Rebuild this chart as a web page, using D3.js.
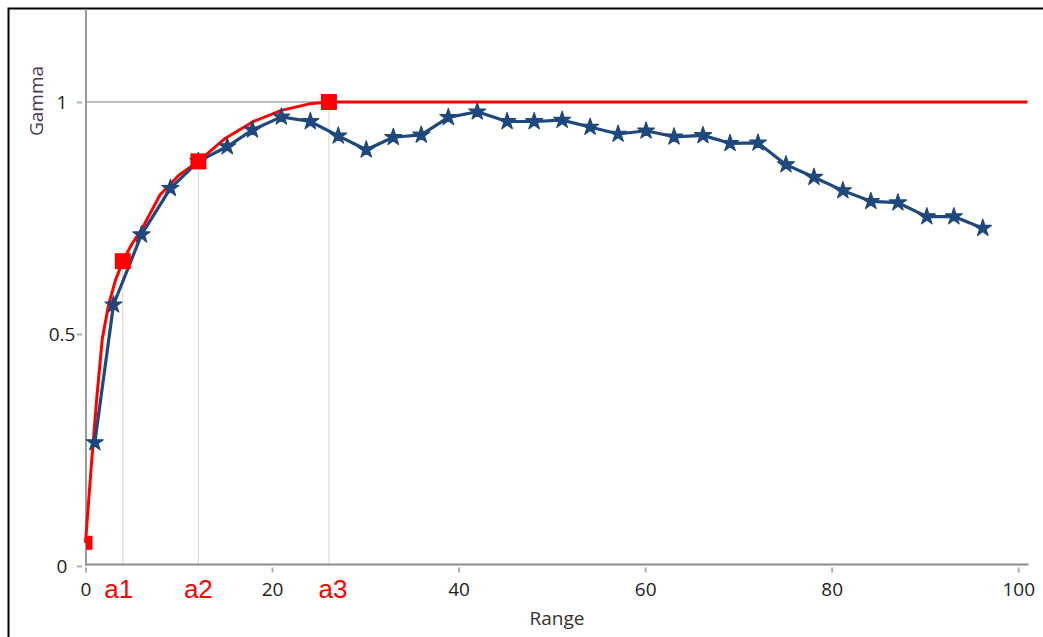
<!DOCTYPE html>
<html>
<head>
<meta charset="utf-8">
<script src="https://cdn.jsdelivr.net/npm/d3@7/dist/d3.min.js"></script>
<style>
  html, body { margin: 0; padding: 0; background: #ffffff; }
  svg { display: block; }
  text { font-family: "Open Sans", "Noto Sans", sans-serif; }
</style>
</head>
<body>
<svg id="chart" width="1043" height="637"></svg>
<script>
// Experimental variogram (lag distance vs gamma)
const lag = [1.0, 3.0, 6.0, 9.1, 12.1, 15.2, 17.9, 21.0, 24.1, 27.1, 30.1, 33.0, 36.0, 38.9, 42.0,
             45.2, 48.1, 51.1, 54.1, 57.1, 60.1, 63.1, 66.2, 69.1, 72.1, 75.1, 78.1, 81.2, 84.2,
             87.1, 90.2, 93.1, 96.2];
const gammaExp = [0.266, 0.563, 0.714, 0.814, 0.872, 0.904, 0.940, 0.968, 0.958, 0.927, 0.897,
                  0.924, 0.929, 0.967, 0.979, 0.958, 0.958, 0.961, 0.946, 0.931, 0.938, 0.925,
                  0.928, 0.911, 0.912, 0.865, 0.838, 0.809, 0.786, 0.783, 0.753, 0.753, 0.728];

// Fitted model curve
const modelLag   = [0, 0.6, 1.2, 1.8, 2.5, 3.2, 4.0, 5.0, 6.0, 8.0, 10.0, 12.1, 15.0, 18.0, 21.0, 24.0, 26.1, 101];
const modelGamma = [0.05, 0.21, 0.36, 0.49, 0.565, 0.615, 0.657, 0.695, 0.725, 0.80, 0.842, 0.872,
                    0.922, 0.958, 0.982, 0.996, 1.0, 1.0];

// Nugget and nested structure ranges
const nugget = 0.05;
const structLabels = ["a1", "a2", "a3"];
const structRange  = [4.0, 12.1, 26.1];
const structGamma  = [0.657, 0.872, 1.0];

// Axis ticks
const rangeTicks = [0, 20, 40, 60, 80, 100];
const gammaTicks = [0, 0.5, 1];

const svg = d3.select("#chart");

const x = d3.scaleLinear().domain([0, 101.1]).range([85.5, 1028.5]);
const y = d3.scaleLinear().domain([0, 1.2]).range([566, 9.2]);

// Outer frame
svg.append("path")
  .attr("d", "M8.5,637 V8.5 H1043")
  .attr("fill", "none").attr("stroke", "#000").attr("stroke-width", 2);

svg.append("defs").append("clipPath").attr("id", "plotClip")
  .append("rect").attr("x", 86).attr("y", 0).attr("width", 950).attr("height", 566);

// Guide lines: sill and structure ranges
svg.append("line")
  .attr("x1", x(0)).attr("x2", x(structRange[2]))
  .attr("y1", y(1)).attr("y2", y(1))
  .attr("stroke", "#a6a6a6").attr("stroke-width", 1.5);

svg.selectAll("line.range-guide").data(structRange).join("line")
  .attr("class", "range-guide")
  .attr("x1", d => x(d)).attr("x2", d => x(d))
  .attr("y1", y(0)).attr("y2", (d, i) => y(structGamma[i]))
  .attr("stroke", "#d2d2d2").attr("stroke-width", 1);

// Axes
const xAxisG = svg.append("g").attr("transform", `translate(0,${y(0) - 1.5})`)
  .call(d3.axisBottom(x).tickValues(rangeTicks).tickSize(0).tickPadding(0).tickFormat(d3.format("d")));
xAxisG.select(".domain").remove();
xAxisG.append("line").attr("x1", 85.5).attr("x2", 1028.5).attr("y1", 0).attr("y2", 0)
  .attr("stroke", "#8c8c8c").attr("stroke-width", 2);
xAxisG.selectAll(".tick").append("line")
  .attr("y1", 3).attr("y2", 8).attr("stroke", "#b0b0b0").attr("stroke-width", 2);
xAxisG.selectAll(".tick text")
  .attr("y", 31).attr("dy", null)
  .attr("fill", "#222").style("font-size", "19px").style("font-family", "'Open Sans', sans-serif");

const yAxisG = svg.append("g")
  .call(d3.axisLeft(y).tickValues(gammaTicks).tickSize(0).tickFormat(d => d));
yAxisG.select(".domain").remove();
yAxisG.append("line").attr("x1", 86).attr("x2", 86).attr("y1", 9).attr("y2", y(0))
  .attr("stroke", "#9a9a9a").attr("stroke-width", 2);
yAxisG.selectAll(".tick").append("line")
  .attr("x1", 77).attr("x2", 82).attr("stroke", "#b0b0b0").attr("stroke-width", 2);
yAxisG.selectAll(".tick text")
  .attr("x", 62).attr("dy", "0.36em").attr("text-anchor", "middle")
  .attr("fill", "#222").style("font-size", "19px").style("font-family", "'Open Sans', sans-serif");

// Axis titles
svg.append("text")
  .attr("x", 557).attr("y", 625).attr("text-anchor", "middle")
  .attr("fill", "#333").style("font-size", "19px")
  .text("Range");
svg.append("text")
  .attr("transform", "translate(43,101) rotate(-90)")
  .attr("text-anchor", "middle")
  .attr("fill", "#4a3658").style("font-size", "19px")
  .text("Gamma");

// Model curve
const modelLine = d3.line().x((d, i) => x(modelLag[i])).y(d => y(d));
svg.append("path")
  .datum(modelGamma)
  .attr("d", modelLine)
  .attr("fill", "none").attr("stroke", "#ff0000").attr("stroke-width", 3)
  .attr("stroke-linejoin", "round");

// Experimental variogram
const expLine = d3.line().x((d, i) => x(lag[i])).y(d => y(d));
svg.append("path")
  .datum(gammaExp)
  .attr("d", expLine)
  .attr("fill", "none").attr("stroke", "#1f497d").attr("stroke-width", 3.2)
  .attr("stroke-linejoin", "round");

const star = d3.symbol().type(d3.symbolStar).size(90);
svg.selectAll("path.exp-pt").data(gammaExp).join("path")
  .attr("class", "exp-pt")
  .attr("d", star)
  .attr("transform", (d, i) => `translate(${x(lag[i])},${y(d)})`)
  .attr("fill", "#1f497d").attr("stroke", "#1f497d").attr("stroke-width", 1.2)
  .attr("stroke-linejoin", "round");

// Model key points: nugget and structure ranges
svg.append("rect")
  .attr("clip-path", "url(#plotClip)")
  .attr("x", x(0) - 7).attr("y", y(nugget) - 7)
  .attr("width", 14).attr("height", 14)
  .attr("fill", "#ff0000");

svg.selectAll("rect.struct-pt").data(structRange).join("rect")
  .attr("class", "struct-pt")
  .attr("x", d => x(d) - 8).attr("y", (d, i) => y(structGamma[i]) - 8)
  .attr("width", 16).attr("height", 16)
  .attr("fill", "#ff0000");

// Structure range labels
const labelShift = [-4, 0, 4];
svg.selectAll("text.struct-label").data(structLabels).join("text")
  .attr("class", "struct-label")
  .attr("x", (d, i) => x(structRange[i]) + labelShift[i])
  .attr("y", 598)
  .attr("text-anchor", "middle")
  .attr("fill", "#ff0000")
  .style("font-family", "'Liberation Sans', Arial, sans-serif")
  .style("font-size", "26px")
  .text(d => d);
</script>
</body>
</html>
